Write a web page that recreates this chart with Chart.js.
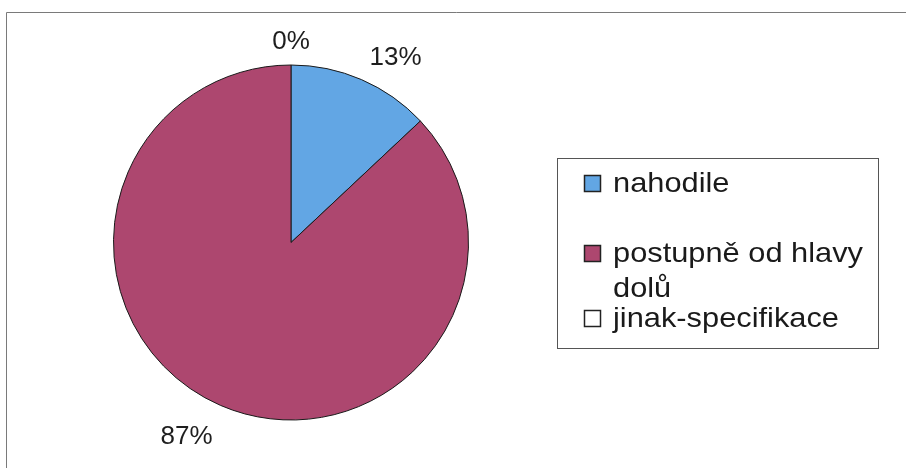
<!DOCTYPE html>
<html>
<head>
<meta charset="utf-8">
<script src="https://cdn.jsdelivr.net/npm/chart.js@4/dist/chart.umd.min.js"></script>
<style>
html,body{margin:0;padding:0;background:#fff;}
#wrap{width:906px;height:468px;position:relative;}
</style>
</head>
<body>
<div id="wrap"><canvas id="c" width="906" height="468"></canvas></div>
<script>
const categories = ["nahodile", "postupně od hlavy dolů", "jinak-specifikace"];
const legendLines = [["nahodile"], ["postupně od hlavy", "dolů"], ["jinak-specifikace"]];
const values = [13, 87, 0];
const percentLabels = ["13%", "87%", "0%"];
const colors = ["#62a6e4", "#ad476f", "#ffffff"];

const frame = {
  id: 'frame',
  beforeDraw(chart) {
    const ctx = chart.ctx;
    ctx.save();
    ctx.fillStyle = '#fff';
    ctx.fillRect(0, 0, chart.width, chart.height);
    ctx.strokeStyle = '#7a7a7a';
    ctx.lineWidth = 1;
    ctx.beginPath();
    ctx.moveTo(6.5, 468);
    ctx.lineTo(6.5, 12.5);
    ctx.lineTo(906, 12.5);
    ctx.stroke();
    ctx.restore();
  }
};

const pctLabels = {
  id: 'pctLabels',
  afterDatasetsDraw(chart) {
    const ctx = chart.ctx;
    const meta = chart.getDatasetMeta(0);
    ctx.save();
    ctx.font = '26px "Liberation Sans", Arial, sans-serif';
    ctx.fillStyle = '#1e1e1e';
    meta.data.forEach((arc, i) => {
      const mid = (arc.startAngle + arc.endAngle) / 2;
      const up = Math.sin(mid) < 0;
      const r = arc.outerRadius + (up ? 10 : 20);
      const dx = Math.cos(mid);
      const x = arc.x + dx * r + (up && dx > 0.05 ? 4 : 0);
      const y = arc.y + Math.sin(mid) * r;
      ctx.textAlign = Math.abs(dx) < 0.05 ? 'center' : (dx > 0 ? 'left' : 'right');
      ctx.textBaseline = up ? 'bottom' : 'top';
      ctx.fillText(percentLabels[i], x, y);
    });
    ctx.restore();
  }
};

const boxLegend = {
  id: 'boxLegend',
  afterDraw(chart) {
    const ctx = chart.ctx;
    ctx.save();
    ctx.strokeStyle = '#555';
    ctx.lineWidth = 1;
    ctx.strokeRect(557.5, 158.5, 321, 190);
    const rows = [192, 262, 327];
    ctx.font = '28px "Liberation Sans", Arial, sans-serif';
    ctx.textBaseline = 'alphabetic';
    ctx.textAlign = 'left';
    categories.forEach((c, i) => {
      const base = rows[i];
      ctx.fillStyle = colors[i];
      ctx.fillRect(584.5, base - 16.5, 16, 16);
      ctx.strokeStyle = '#222';
      ctx.lineWidth = 1.5;
      ctx.strokeRect(584.5, base - 16.5, 16, 16);
      ctx.fillStyle = '#1a1a1a';
      legendLines[i].forEach((line, j) => {
        ctx.save();
        ctx.translate(613, base + j * 35);
        ctx.scale(1.1, 1);
        ctx.fillText(line, 0, 0);
        ctx.restore();
      });
    });
    ctx.restore();
  }
};

new Chart(document.getElementById('c'), {
  type: 'pie',
  data: {
    labels: categories,
    datasets: [{
      data: values,
      backgroundColor: colors,
      borderColor: '#1a1a1a',
      borderWidth: 1
    }]
  },
  options: {
    responsive: false,
    animation: false,
    layout: { padding: { left: 113, right: 437, top: 64, bottom: 47 } },
    plugins: {
      legend: { display: false },
      tooltip: { enabled: false },
      title: { display: false }
    }
  },
  plugins: [frame, pctLabels, boxLegend]
});
</script>
</body>
</html>
